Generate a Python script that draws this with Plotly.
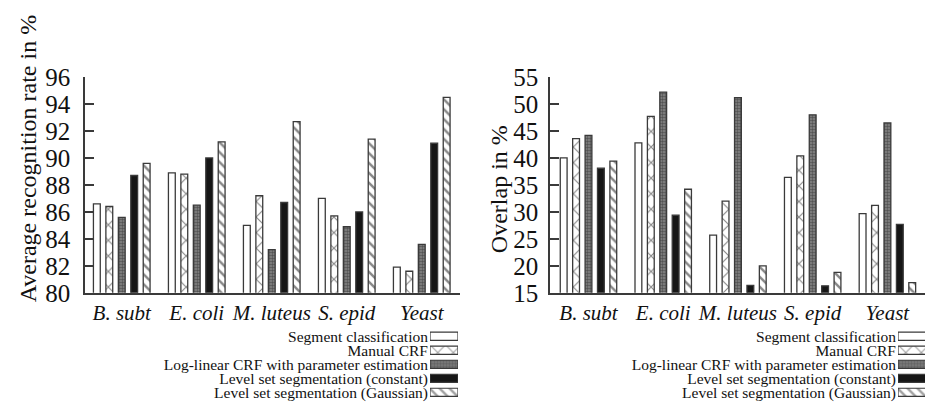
import plotly.graph_objects as go

categories = ["B. subt", "E. coli", "M. luteus", "S. epid", "Yeast"]
series = [
    "Segment classification",
    "Manual CRF",
    "Log-linear CRF with parameter estimation",
    "Level set segmentation (constant)",
    "Level set segmentation (Gaussian)",
]
recognition = [
    [86.6, 88.9, 85.0, 87.0, 81.9],
    [86.4, 88.8, 87.2, 85.7, 81.6],
    [85.6, 86.5, 83.2, 84.9, 83.6],
    [88.7, 90.0, 86.7, 86.0, 91.1],
    [89.6, 91.2, 92.7, 91.4, 94.5],
]
overlap = [
    [40.0, 42.8, 25.7, 36.4, 29.7],
    [43.6, 47.7, 32.0, 40.4, 31.2],
    [44.2, 52.2, 51.2, 48.0, 46.5],
    [38.1, 29.4, 16.4, 16.3, 27.7],
    [39.4, 34.2, 20.0, 18.8, 16.9],
]
left_ticks = [80, 82, 84, 86, 88, 90, 92, 94, 96]
right_ticks = [15, 20, 25, 30, 35, 40, 45, 50, 55]

FONT = "Times New Roman"
LINE = "#3a3a3a"
styles = [
    dict(color="white", pattern=dict(shape="")),
    dict(color="white", pattern=dict(shape="x", fgcolor="#111", bgcolor="white", size=11, solidity=0.2)),
    dict(color="#808080", pattern=dict(shape=".", fgcolor="#1a1a1a", bgcolor="#8a8a8a", size=3, solidity=0.55)),
    dict(color="#161616", pattern=dict(shape="")),
    dict(color="white", pattern=dict(shape="\\", fgcolor="#111", bgcolor="white", size=7, solidity=0.35)),
]

W, H = 933, 410
def px(x):
    return x / W
def py(y):
    return (H - y) / H

fig = go.Figure()
for i, name in enumerate(series):
    st = styles[i]
    fig.add_trace(go.Bar(x=categories, y=recognition[i], name=name, xaxis="x", yaxis="y",
                         marker=dict(color=st["color"], pattern=st["pattern"], line=dict(color=LINE, width=1.3)),
                         showlegend=False))
    fig.add_trace(go.Bar(x=categories, y=overlap[i], name=name, xaxis="x2", yaxis="y2",
                         marker=dict(color=st["color"], pattern=st["pattern"], line=dict(color=LINE, width=1.3)),
                         showlegend=False))

def legend_trace(xa, ya):
    return go.Bar(
        y=series, x=[1] * len(series), orientation="h", xaxis=xa, yaxis=ya, width=0.58,
        showlegend=False, hoverinfo="skip",
        marker=dict(
            color=[s["color"] for s in styles],
            line=dict(color=LINE, width=1.2),
            pattern=dict(
                shape=[s["pattern"].get("shape", "") for s in styles],
                fgcolor=[s["pattern"].get("fgcolor", "#222") for s in styles],
                bgcolor=[s["pattern"].get("bgcolor", s["color"]) for s in styles],
                size=[s["pattern"].get("size", 6) for s in styles],
                solidity=[s["pattern"].get("solidity", 0.3) for s in styles],
            ),
        ),
    )

fig.add_trace(legend_trace("x3", "y3"))
fig.add_trace(legend_trace("x4", "y4"))

ytop, ybot = 60, 291
yaxis_common = dict(showline=True, linecolor=LINE, linewidth=1.5, ticks="inside", ticklen=9,
                    tickcolor=LINE, tickwidth=1.5, showgrid=False, zeroline=False,
                    tickfont=dict(family=FONT, size=25, color="#111"))
xaxis_common = dict(showline=True, linecolor=LINE, linewidth=1.5, ticks="", showgrid=False,
                    tickfont=dict(family=FONT, size=21, color="#111", style="italic"))

leg_y = dict(domain=[py(405), py(330)], autorange="reversed", showline=False, ticks="",
             tickmode="array", tickvals=series, ticktext=series, ticklabelstandoff=1,
             showgrid=False, tickfont=dict(family=FONT, size=15.5, color="#111"))
leg_x = dict(range=[0, 1], visible=False, showgrid=False, zeroline=False)

fig.update_layout(
    width=W, height=H, margin=dict(l=0, r=0, t=0, b=0),
    paper_bgcolor="white", plot_bgcolor="white",
    font=dict(family=FONT),
    barmode="group", bargap=0.17, bargroupgap=0.45,
    xaxis=dict(domain=[px(77), px(452)], range=[-0.49, 4.51], anchor="y", **xaxis_common),
    yaxis=dict(domain=[py(ybot), py(ytop)], range=[80, 96], tickvals=left_ticks, anchor="x",
               ticklabelstandoff=8, **yaxis_common),
    xaxis2=dict(domain=[px(542), px(925)], range=[-0.515, 4.61], anchor="y2", **xaxis_common),
    yaxis2=dict(domain=[py(ybot), py(ytop)], range=[15, 55], tickvals=right_ticks, anchor="x2",
                ticklabelstandoff=5, **yaxis_common),
    xaxis3=dict(domain=[px(422), px(450)], anchor="y3", **leg_x),
    yaxis3=dict(anchor="x3", **leg_y),
    xaxis4=dict(domain=[px(890), px(932)], anchor="y4", **leg_x),
    yaxis4=dict(anchor="x4", **leg_y),
    annotations=[
        dict(text="Average recognition rate in %", textangle=-90, x=px(20), y=py(148),
             xanchor="center", yanchor="middle",
             xref="paper", yref="paper", showarrow=False, font=dict(family=FONT, size=24, color="#111")),
        dict(text="Overlap in %", textangle=-90, x=px(491), y=py(180),
             xanchor="center", yanchor="middle",
             xref="paper", yref="paper", showarrow=False, font=dict(family=FONT, size=24, color="#111")),
    ],
)

fig.write_html("out.html")
